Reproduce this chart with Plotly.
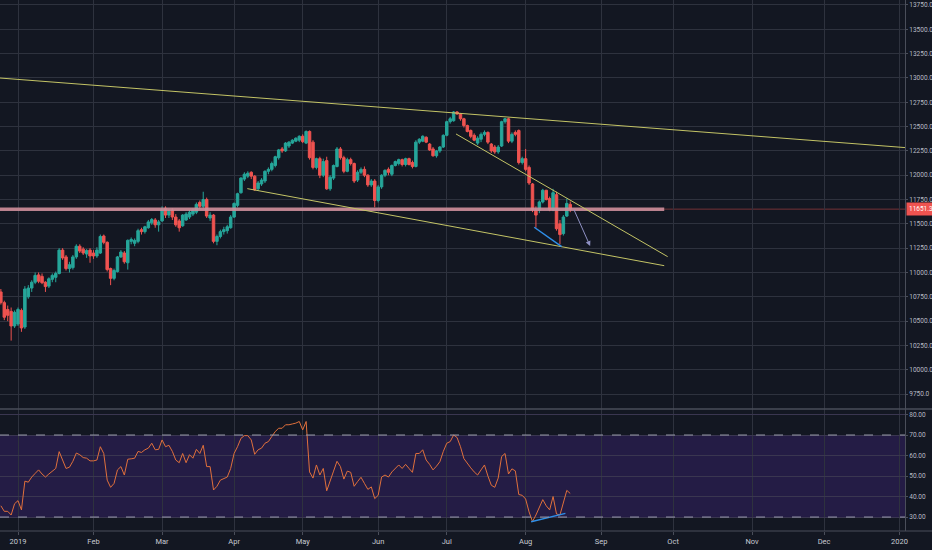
import pandas as pd
import plotly.graph_objects as go

# ---- data (daily bars, Xetra calendar) ----
holidays = ["2018-12-24", "2018-12-25", "2018-12-26", "2018-12-31", "2019-01-01",
            "2019-04-19", "2019-04-22", "2019-05-01"]
days = pd.bdate_range("2018-12-19", "2019-08-20", freq="C", holidays=holidays)
bar_x = days + pd.Timedelta(hours=12)   # centre each candle inside its day

opens = [10800, 10690, 10620, 10600, 10450,
         10470, 10610, 10440, 10750, 10840, 10900, 10975, 10960, 10900, 10860, 10930, 10950, 10990, 11230, 11160, 11040, 11050, 11160, 11270, 11240, 11190, 11230,
         11200, 11170, 11200, 11375, 11310, 11040, 10940, 11010, 11160, 11200, 11100, 11320, 11300, 11320, 11440, 11420, 11460, 11510, 11540, 11490,
         11530, 11660, 11590, 11640, 11570, 11530, 11480, 11540, 11570, 11600, 11620, 11720, 11680, 11750, 11560, 11590, 11320, 11370, 11420, 11430, 11460,
         11570, 11690, 11820, 11960, 11990, 12030, 11990, 11860, 11910, 11940, 12040, 12060, 12100, 12180, 12270, 12250, 12300, 12330, 12350, 12360,
         12400, 12330, 12450, 12340, 12080, 12170, 12000, 12150, 11860, 11970, 12090, 12270, 12180, 12040, 12160, 12120, 11950, 12030, 12060, 12000, 11900, 11940,
         11740, 11880, 12000, 12060, 12010, 12100, 12120, 12160, 12110, 12170, 12130, 12090, 12340, 12350, 12390, 12320, 12270, 12200, 12250, 12290,
         12410, 12550, 12560, 12650, 12630, 12580, 12510, 12460, 12410, 12330, 12370, 12420, 12440, 12320, 12290, 12240, 12300, 12550, 12580, 12350, 12440, 12460, 12130,
         12170, 12080, 11910, 11640, 11640, 11725, 11845, 11760, 11645, 11800, 11500, 11400, 11580, 11700]
highs = [10830, 10710, 10660, 10640, 10610,
         10640, 10630, 10860, 10870, 10920, 11000, 11000, 10990, 10910, 10950, 10990, 11010, 11250, 11250, 11180, 11110, 11180, 11290, 11290, 11260, 11240, 11250,
         11230, 11260, 11390, 11390, 11320, 11050, 11040, 11170, 11230, 11220, 11340, 11360, 11350, 11450, 11460, 11480, 11540, 11560, 11560, 11540,
         11680, 11680, 11650, 11660, 11600, 11550, 11600, 11620, 11640, 11660, 11720, 11740, 11830, 11770, 11620, 11600, 11390, 11440, 11470, 11490, 11590,
         11720, 11820, 11980, 12030, 12040, 12040, 12000, 11940, 11970, 12050, 12080, 12140, 12200, 12270, 12290, 12340, 12350, 12370, 12390, 12410,
         12420, 12460, 12460, 12360, 12180, 12190, 12170, 12190, 12000, 12110, 12290, 12290, 12200, 12180, 12180, 12130, 12050, 12080, 12090, 12010, 11960, 11960,
         11900, 12010, 12060, 12080, 12110, 12150, 12170, 12170, 12180, 12180, 12150, 12360, 12380, 12410, 12400, 12330, 12290, 12260, 12300, 12420,
         12560, 12600, 12660, 12660, 12640, 12590, 12520, 12470, 12430, 12400, 12440, 12460, 12450, 12330, 12310, 12310, 12560, 12590, 12590, 12440, 12460, 12470, 12190,
         12270, 12100, 11920, 11680, 11740, 11860, 11850, 11780, 11860, 11830, 11540, 11590, 11760, 11730]
lows = [10670, 10510, 10500, 10300, 10430,
        10450, 10390, 10420, 10730, 10800, 10880, 10890, 10880, 10800, 10840, 10900, 10900, 10980, 11130, 11020, 11000, 11030, 11140, 11200, 11180, 11150, 11100,
        11140, 11150, 11190, 11290, 11010, 10870, 10920, 11000, 11150, 11090, 11030, 11290, 11270, 11300, 11390, 11400, 11450, 11490, 11460, 11420,
        11520, 11560, 11560, 11540, 11470, 11420, 11470, 11530, 11550, 11580, 11600, 11650, 11660, 11560, 11530, 11300, 11280, 11350, 11390, 11400, 11450,
        11560, 11670, 11810, 11940, 11970, 11960, 11840, 11840, 11890, 11920, 12010, 12040, 12080, 12160, 12230, 12240, 12280, 12320, 12340, 12340,
        12330, 12320, 12160, 12060, 12060, 11970, 11980, 11850, 11840, 11950, 12080, 12160, 12020, 12030, 12100, 11920, 11930, 12010, 11980, 11880, 11880, 11670,
        11720, 11860, 11980, 12000, 11990, 12090, 12100, 12090, 12090, 12100, 12070, 12080, 12320, 12340, 12330, 12250, 12190, 12180, 12230, 12280,
        12400, 12530, 12550, 12620, 12560, 12490, 12440, 12380, 12350, 12310, 12340, 12400, 12320, 12230, 12220, 12220, 12290, 12530, 12330, 12330, 12400, 12110, 12110,
        12040, 11900, 11620, 11460, 11610, 11710, 11740, 11630, 11630, 11430, 11290, 11380, 11570, 11620]
closes = [10690, 10540, 10560, 10450, 10590,
          10620, 10430, 10830, 10840, 10900, 10970, 10910, 10895, 10855, 10935, 10970, 10990, 11230, 11150, 11040, 11080, 11160, 11270, 11220, 11200, 11225, 11170,
          11170, 11230, 11370, 11310, 11030, 10940, 11020, 11160, 11210, 11110, 11330, 11340, 11330, 11430, 11420, 11470, 11520, 11545, 11490, 11520,
          11650, 11590, 11630, 11570, 11490, 11460, 11590, 11600, 11620, 11640, 11700, 11680, 11750, 11580, 11590, 11320, 11370, 11420, 11440, 11470, 11570,
          11710, 11810, 11970, 12010, 12020, 11990, 11850, 11920, 11950, 12040, 12060, 12120, 12190, 12260, 12250, 12330, 12340, 12360, 12380, 12400,
          12345, 12450, 12180, 12080, 12170, 12000, 12140, 11860, 11980, 12100, 12270, 12180, 12040, 12160, 12120, 11940, 12030, 12060, 12000, 11900, 11940, 11740,
          11880, 12000, 12050, 12030, 12100, 12140, 12160, 12110, 12170, 12110, 12090, 12340, 12370, 12400, 12340, 12260, 12200, 12250, 12290, 12410,
          12550, 12580, 12650, 12630, 12580, 12510, 12450, 12400, 12360, 12380, 12420, 12440, 12340, 12250, 12240, 12290, 12550, 12580, 12350, 12420, 12420, 12130, 12170,
          12060, 11920, 11650, 11590, 11725, 11845, 11750, 11645, 11820, 11450, 11390, 11570, 11710, 11651.3]

rsi = [35.5, 32.8, 32.8, 31.0, 36.5,
       38.0, 33.5, 47.5, 47.0, 49.5, 51.3, 53.0, 51.0, 49.5, 51.0, 52.4, 53.7, 61.9, 57.8, 53.7, 54.3, 57.2, 61.2, 60.4, 59.0, 58.7, 57.4,
       57.4, 57.8, 64.3, 61.0, 48.0, 44.5, 46.4, 53.0, 54.6, 50.5, 58.2, 58.4, 58.7, 62.0, 61.5, 62.8, 63.6, 66.0, 62.8, 63.0,
       67.6, 64.3, 65.0, 62.0, 57.8, 56.5, 61.0, 56.5, 60.4, 58.7, 63.0, 61.0, 65.0, 54.6, 54.6, 43.2, 45.0, 48.0, 48.8, 49.5, 53.7,
       61.0, 64.3, 68.4, 69.7, 69.7, 67.6, 60.6, 62.8, 63.6, 66.0, 66.8, 69.3, 71.7, 73.3, 73.3, 75.0, 75.0, 75.4, 75.8, 76.6,
       72.5, 76.6, 52.0, 49.0, 55.4, 50.5, 53.7, 42.8, 48.0, 52.4, 57.2, 54.6, 48.5, 52.4, 51.8, 45.0, 47.3, 49.4, 46.4, 43.5, 44.7, 39.0,
       40.6, 49.5, 50.5, 49.5, 52.0, 53.7, 55.4, 53.7, 55.7, 53.7, 51.8, 61.0, 61.0, 62.8, 57.8, 55.7, 53.0, 54.8, 57.0, 62.0,
       66.0, 66.8, 70.0, 68.8, 64.3, 58.5, 56.0, 54.0, 52.0, 50.5, 53.0, 55.4, 50.0, 45.5, 44.5, 49.0, 59.5, 61.0, 51.0, 53.5, 52.5, 41.0, 40.6,
       38.8, 32.5, 27.8, 31.0, 35.0, 38.5, 35.5, 33.5, 40.0, 31.5, 31.0, 37.0, 43.0, 41.5]

last_price = closes[-1]

# drawings (two points each)
top_line_x = ["2018-12-19 06:00", "2020-01-03 02:24"]
top_line_y = [12999, 12284]
low_line_x = ["2019-04-05 08:24", "2019-09-26 21:36"]
low_line_y = [11862, 11070]
wedge_x = ["2019-07-04 04:48", "2019-09-27 21:36"]
wedge_y = [12424, 11163]
band_x = ["2018-12-19 06:00", "2019-09-26 21:36"]
div_x = ["2019-08-06 00:00", "2019-08-16 00:00"]
div_y = [11465, 11265]
rsi_div_x = ["2019-08-05 02:24", "2019-08-19 02:24"]
rsi_div_y = [27.7, 31.8]
arrow_x = ["2019-08-21 09:36", "2019-08-28 07:12"]
arrow_y = [11660, 11272]

tick_dates = ["2019-01-02 12:00", "2019-02-01 12:00", "2019-03-01 12:00", "2019-04-01 12:00",
              "2019-05-02 12:00", "2019-06-03 12:00", "2019-07-01 12:00", "2019-08-01 12:00",
              "2019-09-02 12:00", "2019-10-01 12:00", "2019-11-01 12:00", "2019-12-02 12:00",
              "2020-01-01 12:00"]
tick_text = ["2019", "Feb", "Mar", "Apr", "May", "Jun", "Jul", "Aug", "Sep", "Oct", "Nov", "Dec", "2020"]

# ---- styling ----
bg = "#131722"
grid = "#2e323e"
txt = "#b8bbc4"
yellow = "#c4c466"
blue = "#2f8fe8"
split = 0.2298   # paper height of the RSI pane

fig = go.Figure()

# horizontal level band
fig.add_trace(go.Scatter(x=band_x, y=[last_price, last_price], mode="lines",
                         line=dict(color="rgba(205,142,155,0.9)", width=3.5),
                         hoverinfo="skip", xaxis="x", yaxis="y"))

fig.add_trace(go.Candlestick(x=bar_x, open=opens, high=highs, low=lows, close=closes,
                             increasing=dict(line=dict(color="#26a69a", width=1), fillcolor="#26a69a"),
                             decreasing=dict(line=dict(color="#ef5350", width=1), fillcolor="#ef5350"),
                             whiskerwidth=0, xaxis="x", yaxis="y"))

for lx, ly, col, w in [(top_line_x, top_line_y, yellow, 1),
                       (low_line_x, low_line_y, yellow, 1),
                       (wedge_x, wedge_y, yellow, 1),
                       (div_x, div_y, blue, 1.5)]:
    fig.add_trace(go.Scatter(x=lx, y=ly, mode="lines", line=dict(color=col, width=w),
                             hoverinfo="skip", xaxis="x", yaxis="y"))

# RSI pane
fig.add_trace(go.Scatter(x=bar_x, y=rsi, mode="lines", line=dict(color="#e0703c", width=1),
                         xaxis="x", yaxis="y2"))
fig.add_trace(go.Scatter(x=rsi_div_x, y=rsi_div_y, mode="lines", line=dict(color=blue, width=1.5),
                         hoverinfo="skip", xaxis="x", yaxis="y2"))

shapes = [
    dict(type="rect", xref="paper", yref="y2", x0=0, x1=1, y0=30, y1=70,
         fillcolor="#241c45", line=dict(width=0), layer="below"),
    dict(type="line", xref="paper", yref="y2", x0=0, x1=1, y0=70, y1=70,
         line=dict(color="#9a9cac", width=1, dash="dash")),
    dict(type="line", xref="paper", yref="y2", x0=0, x1=1, y0=30, y1=30,
         line=dict(color="#9a9cac", width=1, dash="dash")),
    dict(type="line", xref="paper", yref="y", x0=0, x1=1, y0=last_price, y1=last_price,
         line=dict(color="rgba(239,83,80,0.45)", width=1), layer="below"),
    dict(type="line", xref="paper", yref="paper", x0=0, x1=1.03, y0=split, y1=split,
         line=dict(color="#4a4e5a", width=1.5)),
    dict(type="line", xref="paper", yref="paper", x0=0, x1=1.03, y0=0, y1=0,
         line=dict(color="#4a4e5a", width=1)),
]

annotations = [
    dict(xref="paper", x=1, yref="y", y=last_price, text="11651.3", showarrow=False,
         xanchor="left", xshift=1, font=dict(color="white", size=6.5, family="Roboto"),
         bgcolor="#ef5350", borderpad=2),
    dict(x=arrow_x[1], y=arrow_y[1], ax=arrow_x[0], ay=arrow_y[0], xref="x", yref="y",
         axref="x", ayref="y", text="", showarrow=True, arrowhead=2, arrowsize=1,
         arrowwidth=1, arrowcolor="#8f91c4"),
]

fig.update_layout(
    width=932, height=550,
    template="none",
    paper_bgcolor=bg, plot_bgcolor=bg,
    margin=dict(l=0, r=27, t=0, b=19),
    showlegend=False,
    boxgap=0.15, boxgroupgap=0.15,
    font=dict(family="Roboto", size=6.5, color=txt),
    shapes=shapes, annotations=annotations,
    xaxis=dict(
        domain=[0, 1], anchor="y2", type="date",
        range=["2018-12-19 06:00", "2020-01-03 02:24"],
        rangebreaks=[dict(bounds=["sat", "mon"]), dict(values=holidays)],
        rangeslider=dict(visible=False),
        tickvals=tick_dates, ticktext=tick_text,
        showgrid=True, gridcolor=grid, gridwidth=1,
        zeroline=False, showline=False,
        ticks="outside", ticklen=3, tickcolor="#4a4e5a",
        tickfont=dict(size=7.5, color="#c8cbd3"), automargin=False,
    ),
    yaxis=dict(
        domain=[split, 1], anchor="x", side="right",
        range=[9597, 13801], tick0=9750, dtick=250, tickformat=".1f",
        showgrid=True, gridcolor=grid, zeroline=False,
        showline=True, linecolor="#4a4e5a", linewidth=1,
        ticks="outside", ticklen=2, tickcolor="#4a4e5a", automargin=False,
    ),
    yaxis2=dict(
        domain=[0, split], anchor="x", side="right",
        range=[23.2, 82.7], tick0=30, dtick=10, tickformat=".2f",
        showgrid=True, gridcolor="#3a3650", zeroline=False,
        showline=True, linecolor="#4a4e5a", linewidth=1,
        ticks="outside", ticklen=2, tickcolor="#4a4e5a", automargin=False,
    ),
)

# the page body has an 8px default margin; drop it so the figure fills the window
fig.write_html("out.html", config={"displayModeBar": False},
               post_script="document.body.style.margin='0';")
